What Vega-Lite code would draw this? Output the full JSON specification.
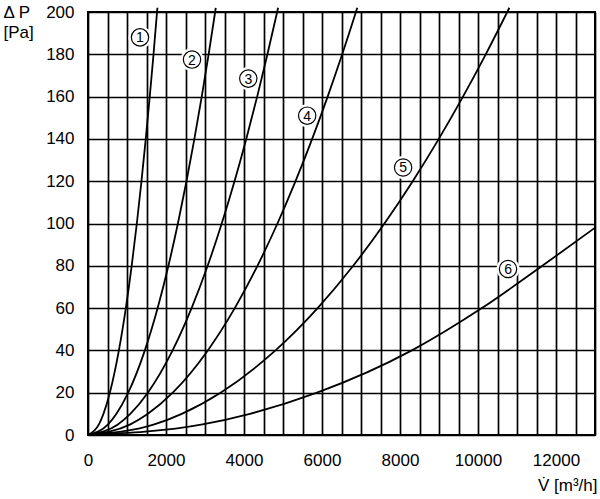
{
  "$schema": "https://vega.github.io/schema/vega-lite/v6.json",
  "width": 507,
  "height": 423,
  "autosize": {"type": "none"},
  "padding": {"left": 88, "top": 12, "right": 5, "bottom": 64},
  "background": "white",
  "config": {
    "view": {"stroke": "black", "strokeWidth": 2},
    "font": "Liberation Sans",
    "axis": {
      "grid": true,
      "gridColor": "black",
      "gridWidth": 1.7,
      "gridOpacity": 1,
      "domain": false,
      "ticks": false,
      "labelFont": "Liberation Sans",
      "labelFontSize": 17,
      "labelColor": "black",
      "titleFont": "Liberation Sans",
      "titleFontSize": 17,
      "titleFontWeight": "normal",
      "titleColor": "black"
    }
  },
  "datasets": {
    "curves": [
      {"curve": "1", "V": 0, "dP": 0}, {"curve": "1", "V": 280, "dP": 5}, {"curve": "1", "V": 396, "dP": 10}, {"curve": "1", "V": 560, "dP": 20}, {"curve": "1", "V": 792, "dP": 40}, {"curve": "1", "V": 970, "dP": 60}, {"curve": "1", "V": 1120, "dP": 80}, {"curve": "1", "V": 1252, "dP": 100}, {"curve": "1", "V": 1371, "dP": 120}, {"curve": "1", "V": 1481, "dP": 140}, {"curve": "1", "V": 1583, "dP": 160}, {"curve": "1", "V": 1680, "dP": 180}, {"curve": "1", "V": 1770, "dP": 200}, {"curve": "1", "V": 1780, "dP": 202},
      {"curve": "2", "V": 0, "dP": 0}, {"curve": "2", "V": 515, "dP": 5}, {"curve": "2", "V": 729, "dP": 10}, {"curve": "2", "V": 1031, "dP": 20}, {"curve": "2", "V": 1458, "dP": 40}, {"curve": "2", "V": 1786, "dP": 60}, {"curve": "2", "V": 2062, "dP": 80}, {"curve": "2", "V": 2305, "dP": 100}, {"curve": "2", "V": 2525, "dP": 120}, {"curve": "2", "V": 2728, "dP": 140}, {"curve": "2", "V": 2916, "dP": 160}, {"curve": "2", "V": 3093, "dP": 180}, {"curve": "2", "V": 3260, "dP": 200}, {"curve": "2", "V": 3276, "dP": 202},
      {"curve": "3", "V": 0, "dP": 0}, {"curve": "3", "V": 766, "dP": 5}, {"curve": "3", "V": 1084, "dP": 10}, {"curve": "3", "V": 1534, "dP": 20}, {"curve": "3", "V": 2169, "dP": 40}, {"curve": "3", "V": 2656, "dP": 60}, {"curve": "3", "V": 3068, "dP": 80}, {"curve": "3", "V": 3429, "dP": 100}, {"curve": "3", "V": 3757, "dP": 120}, {"curve": "3", "V": 4058, "dP": 140}, {"curve": "3", "V": 4338, "dP": 160}, {"curve": "3", "V": 4601, "dP": 180}, {"curve": "3", "V": 4850, "dP": 200}, {"curve": "3", "V": 4874, "dP": 202},
      {"curve": "4", "V": 0, "dP": 0}, {"curve": "4", "V": 1086, "dP": 5}, {"curve": "4", "V": 1536, "dP": 10}, {"curve": "4", "V": 2172, "dP": 20}, {"curve": "4", "V": 3072, "dP": 40}, {"curve": "4", "V": 3763, "dP": 60}, {"curve": "4", "V": 4345, "dP": 80}, {"curve": "4", "V": 4858, "dP": 100}, {"curve": "4", "V": 5321, "dP": 120}, {"curve": "4", "V": 5748, "dP": 140}, {"curve": "4", "V": 6145, "dP": 160}, {"curve": "4", "V": 6518, "dP": 180}, {"curve": "4", "V": 6870, "dP": 200}, {"curve": "4", "V": 6904, "dP": 202},
      {"curve": "5", "V": 0, "dP": 0}, {"curve": "5", "V": 1699, "dP": 5}, {"curve": "5", "V": 2404, "dP": 10}, {"curve": "5", "V": 3399, "dP": 20}, {"curve": "5", "V": 4807, "dP": 40}, {"curve": "5", "V": 5888, "dP": 60}, {"curve": "5", "V": 6800, "dP": 80}, {"curve": "5", "V": 7601, "dP": 100}, {"curve": "5", "V": 8327, "dP": 120}, {"curve": "5", "V": 8995, "dP": 140}, {"curve": "5", "V": 9615, "dP": 160}, {"curve": "5", "V": 10199, "dP": 180}, {"curve": "5", "V": 10750, "dP": 200}, {"curve": "5", "V": 10804, "dP": 202},
      {"curve": "6", "V": 0, "dP": 0}, {"curve": "6", "V": 2936, "dP": 5}, {"curve": "6", "V": 4152, "dP": 10}, {"curve": "6", "V": 5872, "dP": 20}, {"curve": "6", "V": 8305, "dP": 40}, {"curve": "6", "V": 10100, "dP": 60}, {"curve": "6", "V": 11650, "dP": 80}, {"curve": "6", "V": 13000, "dP": 98}
    ],
    "labels": [
      {"label": "1", "V": 1333, "dP": 188},
      {"label": "2", "V": 2667, "dP": 177.5},
      {"label": "3", "V": 4110, "dP": 168.5},
      {"label": "4", "V": 5620, "dP": 151},
      {"label": "5", "V": 8080, "dP": 126.5},
      {"label": "6", "V": 10770, "dP": 78.5}
    ]
  },
  "encoding": {
    "x": {
      "field": "V", "type": "quantitative",
      "scale": {"domain": [0, 13000], "nice": false, "zero": true},
      "axis": {
        "values": [0, 500, 1000, 1500, 2000, 2500, 3000, 3500, 4000, 4500, 5000, 5500, 6000, 6500, 7000, 7500, 8000, 8500, 9000, 9500, 10000, 10500, 11000, 11500, 12000, 12500, 13000],
        "format": "d",
        "labelExpr": "datum.value % 2000 === 0 ? datum.label : ''",
        "labelPadding": 17,
        "labelFlush": false,
        "labelOverlap": false,
        "title": "V̇ [m³/h]",
        "titleX": 509,
        "titleY": 55,
        "titleAlign": "right",
        "titleAnchor": null,
        "titleBaseline": "alphabetic"
      }
    },
    "y": {
      "field": "dP", "type": "quantitative",
      "scale": {"domain": [0, 200], "nice": false, "zero": true},
      "axis": {
        "values": [0, 20, 40, 60, 80, 100, 120, 140, 160, 180, 200],
        "labelPadding": 14,
        "labelFlush": false,
        "labelOverlap": false,
        "title": ["Δ P", "[Pa]"],
        "titleAngle": 0,
        "titleX": -85,
        "titleY": 5,
        "titleAlign": "left",
        "titleAnchor": null,
        "titleBaseline": "alphabetic",
        "titleLineHeight": 20
      }
    }
  },
  "layer": [
    {
      "data": {"name": "labels"},
      "mark": {"type": "point", "shape": "circle", "filled": true, "color": "white", "opacity": 1, "size": 529, "strokeWidth": 0}
    },
    {
      "data": {"name": "curves"},
      "mark": {"type": "line", "interpolate": "monotone", "color": "black", "strokeWidth": 1.8, "clip": false},
      "encoding": {
        "detail": {"field": "curve", "type": "nominal"},
        "order": {"field": "V", "type": "quantitative"}
      }
    },
    {
      "data": {"name": "labels"},
      "mark": {"type": "point", "shape": "circle", "filled": false, "stroke": "black", "strokeWidth": 1.2, "opacity": 1, "size": 300}
    },
    {
      "data": {"name": "labels"},
      "mark": {"type": "text", "font": "Liberation Sans", "fontSize": 14, "color": "black", "align": "center", "baseline": "middle", "dy": 1},
      "encoding": {
        "text": {"field": "label", "type": "nominal"}
      }
    }
  ]
}
